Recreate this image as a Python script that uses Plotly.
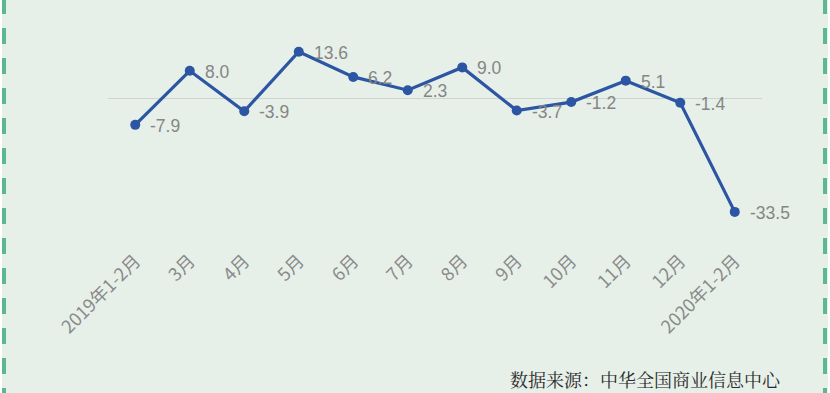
import plotly.graph_objects as go

categories = ["2019年1-2月", "3月", "4月", "5月", "6月", "7月", "8月", "9月", "10月", "11月", "12月", "2020年1-2月"]
values = [-7.9, 8.0, -3.9, 13.6, 6.2, 2.3, 9.0, -3.7, -1.2, 5.1, -1.4, -33.5]
source_text = "数据来源：中华全国商业信息中心"

W, H = 830, 393
ML, MR, MT, MB = 108, 68, 30, 153
PW = W - ML - MR
PH = H - MT - MB

def px_x(p):
    return (p - ML) / PW

def px_y(p):
    return (H - MB - p) / PH

fig = go.Figure()
fig.add_trace(go.Scatter(
    x=categories, y=values,
    mode="lines+markers",
    line=dict(color="#2c55a3", width=3.2),
    marker=dict(color="#2c55a3", size=10),
    cliponaxis=False,
    showlegend=False,
))

annotations = []
for c, v in zip(categories, values):
    annotations.append(dict(
        x=c, y=v, xref="x", yref="y", text=f"{v:.1f}",
        xanchor="left", yanchor="middle", xshift=13, yshift=-1, showarrow=False,
        font=dict(family="Liberation Sans, Arial, sans-serif", size=17.5, color="#858585"),
    ))

annotations.append(dict(
    text=source_text, xref="paper", yref="paper",
    x=px_x(783), y=px_y(379), xanchor="right", yanchor="middle",
    showarrow=False,
    font=dict(family="Noto Serif CJK SC, Noto Sans CJK SC, serif", size=18, color="#2a2a2a"),
))

shapes = []
for xp in (4, 825):
    shapes.append(dict(type="line", xref="paper", yref="paper",
                       x0=px_x(xp), x1=px_x(xp), y0=px_y(-2), y1=px_y(H),
                       line=dict(color="#5cb88e", width=4, dash="16px,14px")))
shapes.append(dict(type="rect", xref="paper", yref="paper", layer="below",
                   x0=px_x(0), x1=px_x(2), y0=px_y(0), y1=px_y(H),
                   fillcolor="white", line=dict(width=0)))
shapes.append(dict(type="rect", xref="paper", yref="paper", layer="below",
                   x0=px_x(828), x1=px_x(830), y0=px_y(0), y1=px_y(H),
                   fillcolor="white", line=dict(width=0)))

fig.update_layout(
    width=W, height=H,
    margin=dict(l=ML, r=MR, t=MT, b=MB),
    paper_bgcolor="#e6f0e9",
    plot_bgcolor="#e6f0e9",
    shapes=shapes,
    annotations=annotations,
    xaxis=dict(
        type="category", range=[-0.5, 11.5],
        showgrid=False, zeroline=False, showline=False, ticks="",
        tickangle=-45, ticklabelstandoff=6,
        tickfont=dict(family="Noto Sans CJK SC, sans-serif", size=18, color="#8a8a8a"),
    ),
    yaxis=dict(
        range=[-(H - MB - 98) / 3.4, (98 - MT) / 3.4],
        showgrid=False, showticklabels=False, ticks="",
        zeroline=True, zerolinecolor="#cfd4d0", zerolinewidth=1,
    ),
)

fig.write_html("out.html")
